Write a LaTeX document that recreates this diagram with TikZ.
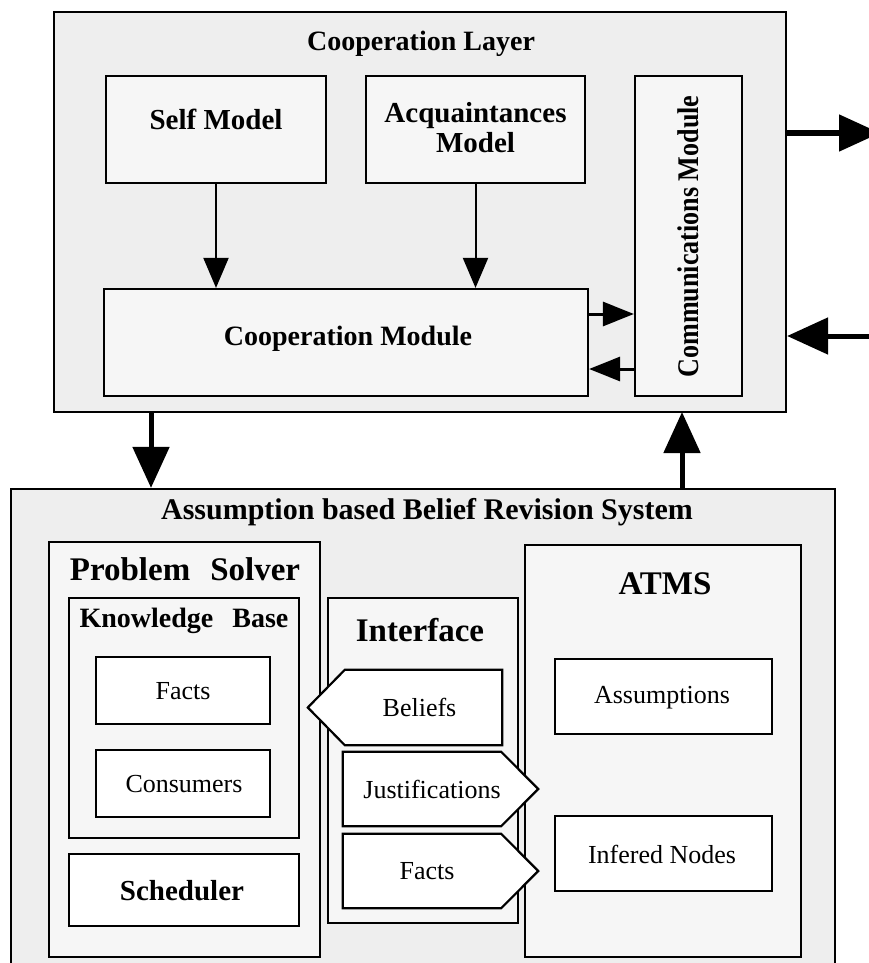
\documentclass[tikz,border=0pt]{standalone}
\usepackage{fontspec}
\setmainfont{Liberation Serif}
\newfontfamily\narrowserif[FakeStretch=0.87]{Liberation Serif}
\usetikzlibrary{arrows.meta,positioning}
\definecolor{layergray}{HTML}{EEEEEE}
\definecolor{partgray}{HTML}{F6F6F6}
\tikzset{
  layer/.style={draw, line width=2.2pt, fill=layergray, inner sep=0pt},
  part/.style={draw, line width=2.2pt, fill=partgray, inner sep=0pt},
  item/.style={draw, line width=2.2pt, fill=white, inner sep=0pt},
  tagbox/.style={inner sep=0pt, minimum width=158pt, minimum height=75pt},
  tagline/.style={draw, line width=2.2pt, fill=white, line join=miter},
  hdtext/.style={font=\bfseries\fontsize{#1}{#1}\selectfont, inner sep=0pt, align=center},
  txt/.style={font=\fontsize{26}{26}\selectfont, inner sep=0pt},
  thin arrow/.style={-{Triangle[length=30pt,width=25pt]}, line width=2pt},
  short arrow/.style={-{Triangle[length=31pt,width=24pt]}, line width=3pt},
  fat arrow/.style={-{Triangle[length=41pt,width=36pt]}, line width=5pt}
}
\begin{document}
\begin{tikzpicture}[x=1pt,y=-1pt]
\useasboundingbox (0,0) rectangle (869,963);
\clip (0,0) rectangle (869,963);
\node[layer, minimum width=732pt, minimum height=400pt] (coop) at (420,212) {};
\node[hdtext=28] (coopT) at (421,44) {Cooperation Layer};
\node[part, minimum width=220pt, minimum height=107pt] (self) at (216,129.5) {};
\node[hdtext=29] (selfT) at (216,119) {Self Model};
\node[part, minimum width=219pt, minimum height=107pt] (acq) at (475.5,129.5) {};
\node[hdtext=29, font=\bfseries\fontsize{29}{30}\selectfont] (acqT) at (475.5,128) {Acquaintances\\Model};
\node[part, minimum width=107pt, minimum height=320pt] (comm) at (688.5,236) {};
\node[hdtext=30, font=\narrowserif\bfseries\fontsize{30}{30}\selectfont, rotate=90] (commT) at (688.5,236.5) {Communications Module};
\node[part, minimum width=484pt, minimum height=107pt] (coopm) at (346,342.5) {};
\node[hdtext=28] (coopmT) at (348,339) {Cooperation Module};
\draw[thin arrow] (self) -- (self |- coopm.north);
\draw[thin arrow] (acq) -- (acq |- coopm.north);
\coordinate (toComm) at ([yshift=28.5pt]coopm.east);
\coordinate (fromComm) at ([yshift=-26.5pt]coopm.east);
\draw[short arrow] (toComm) -- (toComm -| comm.west);
\draw[short arrow] (fromComm -| comm.west) -- (fromComm);
\coordinate (outR) at (880,133);
\coordinate (inR) at (880,336);
\draw[fat arrow] (outR -| coop.east) -- (outR);
\draw[fat arrow] (inR) -- (inR -| coop.east);
\node[layer, minimum width=824pt, minimum height=486pt] (abbrs) at (423,732) {};
\node[hdtext=30] (abbrsT) at (427,512) {Assumption based Belief Revision System};
\coordinate (down) at (151,412);
\coordinate (up) at (682,412);
\draw[fat arrow] (down) -- (down |- abbrs.north);
\draw[fat arrow] (up |- abbrs.north) -- (up);
\node[part, minimum width=271pt, minimum height=415pt] (solver) at (184.5,749.5) {};
\node[hdtext=33] (solverT) at (185,569) {Problem\hspace{20pt}Solver};
\node[part, minimum width=230pt, minimum height=240pt] (kb) at (184,718) {};
\node[hdtext=28] (kbT) at (184,621) {Knowledge\hspace{19pt}Base};
\node[item, minimum width=174pt, minimum height=67pt] (facts) at (183,690.5) {};
\node[txt] (factsT) at (183,691) {Facts};
\node[item, minimum width=174pt, minimum height=67pt] (cons) at (183,783.5) {};
\node[txt] (consT) at (184,784) {Consumers};
\node[item, minimum width=230pt, minimum height=72pt] (sched) at (184,890) {};
\node[hdtext=29] (schedT) at (182,891) {Scheduler};
\node[part, minimum width=190pt, minimum height=325pt] (iface) at (423,760.5) {};
\node[hdtext=33] (ifaceT) at (420,630) {Interface};
\node[part, minimum width=276pt, minimum height=412pt] (atms) at (663,751) {};
\node[hdtext=33] (atmsT) at (665,584) {ATMS};
\node[item, minimum width=217pt, minimum height=75pt] (assum) at (663.5,696.5) {};
\node[txt] (assumT) at (662,698) {Assumptions};
\node[item, minimum width=217pt, minimum height=75pt] (infer) at (663.5,853.5) {};
\node[txt] (inferT) at (662,854) {Infered Nodes};
\node[tagbox, minimum width=157pt] (beliefs) at (423.5,707.5) {};
\draw[tagline] (beliefs.north east) -- (beliefs.north west) -- ([xshift=-37pt]beliefs.west) -- (beliefs.south west) -- (beliefs.south east) -- cycle;
\node[txt] (beliefsT) at ([xshift=-4pt]beliefs) {Beliefs};
\node[tagbox, minimum height=74pt] (justs) at (422,789) {};
\draw[tagline] (justs.north west) -- (justs.north east) -- ([xshift=37pt]justs.east) -- (justs.south east) -- (justs.south west) -- cycle;
\node[txt] (justsT) at ([xshift=10pt]justs) {Justifications};
\node[tagbox, minimum height=74pt] (ifacts) at (422,871) {};
\draw[tagline] (ifacts.north west) -- (ifacts.north east) -- ([xshift=37pt]ifacts.east) -- (ifacts.south east) -- (ifacts.south west) -- cycle;
\node[txt] (ifactsT) at ([xshift=5pt]ifacts) {Facts};
\end{tikzpicture}
\end{document}
